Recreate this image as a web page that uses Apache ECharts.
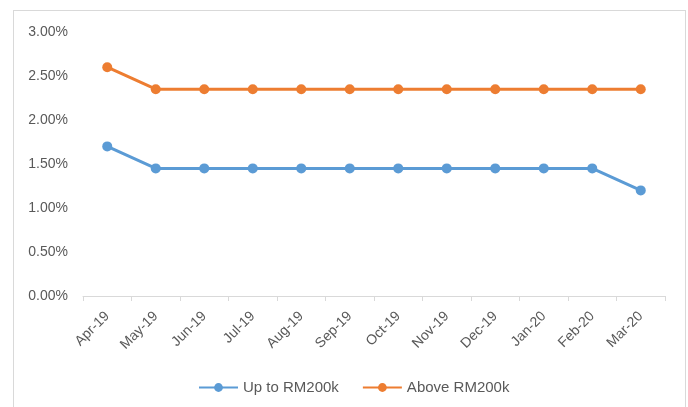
<!DOCTYPE html>
<html><head><meta charset="utf-8">
<script src="https://cdn.jsdelivr.net/npm/echarts@6/dist/echarts.min.js"></script>
<style>html,body{margin:0;padding:0;background:#fff}#c{width:688px;height:407px}
#frame{position:absolute;left:13px;top:10px;width:671px;height:420px;border:1px solid #d9d9d9;pointer-events:none}</style>
</head><body><div id="c"></div><div id="frame"></div>
<script>
const categories = ['Apr-19','May-19','Jun-19','Jul-19','Aug-19','Sep-19','Oct-19','Nov-19','Dec-19','Jan-20','Feb-20','Mar-20'];
const upTo200k = [1.70,1.45,1.45,1.45,1.45,1.45,1.45,1.45,1.45,1.45,1.45,1.20];
const above200k = [2.60,2.35,2.35,2.35,2.35,2.35,2.35,2.35,2.35,2.35,2.35,2.35];
const seriesNames = ['Up to RM200k','Above RM200k'];
const chart = echarts.init(document.getElementById('c'));
const font = '"Liberation Sans", sans-serif';
chart.setOption({
  animation:false,
  grid:{left:83,right:23,top:32,bottom:111,containLabel:false},
  legend:{top:380,left:198,itemWidth:39,itemHeight:11,itemGap:23,padding:0,
    textStyle:{color:'#595959',fontSize:15,fontFamily:font},
    data:seriesNames},
  xAxis:{type:'category',data:categories,boundaryGap:true,
    axisLine:{lineStyle:{color:'#d9d9d9'}},
    axisTick:{show:true,length:5,lineStyle:{color:'#d9d9d9'}},
    axisLabel:{rotate:45,color:'#595959',fontSize:14,fontFamily:font,margin:18}},
  yAxis:{type:'value',min:0,max:3,interval:0.5,
    axisLine:{show:false},axisTick:{show:false},splitLine:{show:false},
    axisLabel:{formatter:v=>v.toFixed(2)+'%',color:'#595959',fontSize:14,fontFamily:font,margin:15}},
  series:[
    {name:seriesNames[0],type:'line',data:upTo200k,symbol:'circle',symbolSize:10,
      lineStyle:{width:3,color:'#5b9bd5'},itemStyle:{color:'#5b9bd5'}},
    {name:seriesNames[1],type:'line',data:above200k,symbol:'circle',symbolSize:10,
      lineStyle:{width:3,color:'#ed7d31'},itemStyle:{color:'#ed7d31'}}
  ]
});
</script></body></html>
